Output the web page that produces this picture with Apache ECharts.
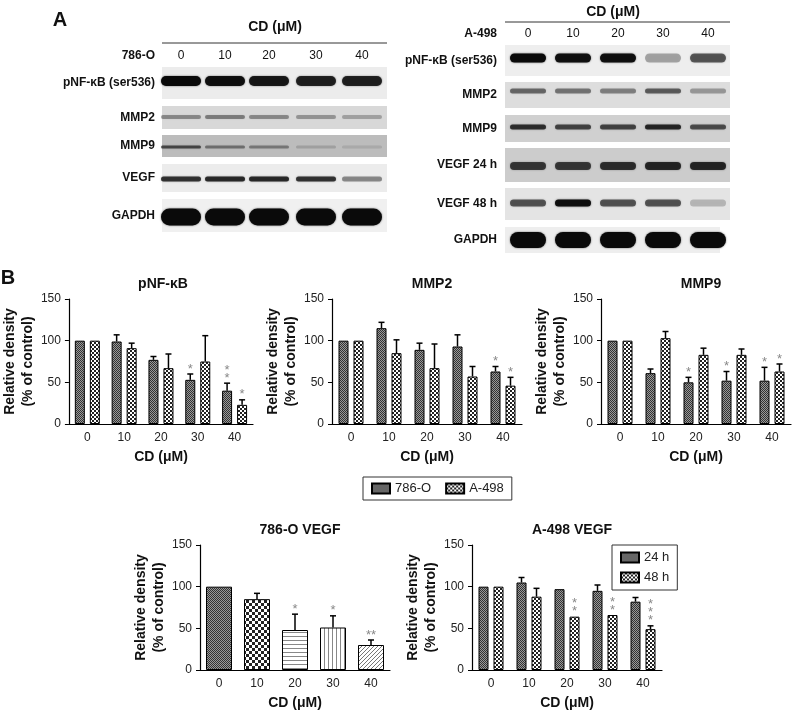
<!DOCTYPE html>
<html>
<head>
<meta charset="utf-8">
<script src="https://cdn.jsdelivr.net/npm/echarts@6/dist/echarts.min.js"></script>
<style>
  html, body { margin: 0; padding: 0; background: #fff; }
  #main { width: 796px; height: 711px; }
</style>
</head>
<body>
<div id="main"></div>
<script>
// 剂量
var doses = ['0', '10', '20', '30', '40']

// pNF-kB
var nfkb786 = [100, 99, 77, 53, 40]
var nfkb786Err = [0, 8, 4, 7, 9]
var nfkb786Star = ['', '', '', '*', '*\n*']
var nfkbA498 = [100, 91, 67, 75, 23]
var nfkbA498Err = [0, 6, 17, 31, 6]
var nfkbA498Star = ['', '', '', '', '*']

// MMP2
var mmp2786 = [100, 115, 89, 93, 63]
var mmp2786Err = [0, 7, 8, 14, 6]
var mmp2786Star = ['', '', '', '', '*']
var mmp2A498 = [100, 85, 67, 57, 46]
var mmp2A498Err = [0, 16, 29, 12, 10]
var mmp2A498Star = ['', '', '', '', '*']

// MMP9
var mmp9786 = [100, 61, 50, 52, 52]
var mmp9786Err = [0, 5, 6, 11, 16]
var mmp9786Star = ['', '', '*', '*', '*']
var mmp9A498 = [100, 103, 83, 83, 63]
var mmp9A498Err = [0, 8, 8, 7, 9]
var mmp9A498Star = ['', '', '', '', '*']

// 786-O VEGF
var vegf786 = [100, 85, 48, 51, 30]
var vegf786Err = [0, 7, 19, 14, 6]
var vegf786Star = ['', '', '*', '*', '**']

// A-498 VEGF
var vegf24 = [100, 105, 97, 95, 82]
var vegf24Err = [0, 6, 0, 7, 5]
var vegf24Star = ['', '', '', '', '']
var vegf48 = [100, 88, 64, 66, 49]
var vegf48Err = [0, 10, 0, 0, 4]
var vegf48Star = ['', '', '*\n*', '*\n*', '*\n*\n*']

var yTicks = [0, 50, 100, 150]

// 条带灰度 (western blot)
var leftRows = ['pNF-\u03baB (ser536)', 'MMP2', 'MMP9', 'VEGF', 'GAPDH']
var leftBands = [
  [1, 0.95, 0.9, 0.85, 0.85],
  [0.35, 0.4, 0.35, 0.3, 0.25],
  [0.6, 0.4, 0.35, 0.15, 0.1],
  [0.75, 0.8, 0.8, 0.75, 0.4],
  [1, 1, 1, 1, 1]
]
var rightRows = ['pNF-\u03baB (ser536)', 'MMP2', 'MMP9', 'VEGF 24 h', 'VEGF 48 h', 'GAPDH']
var rightBands = [
  [1, 0.95, 0.95, 0.3, 0.6],
  [0.5, 0.45, 0.4, 0.55, 0.3],
  [0.75, 0.65, 0.65, 0.8, 0.6],
  [0.7, 0.7, 0.75, 0.8, 0.8],
  [0.6, 0.95, 0.6, 0.6, 0.2],
  [1, 1, 1, 1, 1]
]

// 图案填充
function makePattern(size, draw) {
  var c = document.createElement('canvas')
  c.width = size
  c.height = size
  var ctx = c.getContext('2d')
  draw(ctx)
  return { image: c, repeat: 'repeat' }
}
var patFine = makePattern(2, function (ctx) {
  ctx.fillStyle = '#999'; ctx.fillRect(0, 0, 2, 2)
  ctx.fillStyle = '#333'; ctx.fillRect(0, 0, 1, 1); ctx.fillRect(1, 1, 1, 1)
})
var patCoarse = makePattern(4, function (ctx) {
  ctx.fillStyle = '#fff'; ctx.fillRect(0, 0, 4, 4)
  ctx.fillStyle = '#222'; ctx.fillRect(0, 0, 2, 2); ctx.fillRect(2, 2, 2, 2)
})
var patBig = makePattern(6, function (ctx) {
  ctx.fillStyle = '#fff'; ctx.fillRect(0, 0, 6, 6)
  ctx.fillStyle = '#222'; ctx.fillRect(0, 0, 3, 3); ctx.fillRect(3, 3, 3, 3)
})
var patHor = makePattern(4, function (ctx) {
  ctx.fillStyle = '#fff'; ctx.fillRect(0, 0, 4, 4)
  ctx.fillStyle = '#888'; ctx.fillRect(0, 0, 4, 1)
})
var patVer = makePattern(4, function (ctx) {
  ctx.fillStyle = '#fff'; ctx.fillRect(0, 0, 4, 4)
  ctx.fillStyle = '#888'; ctx.fillRect(0, 0, 1, 4)
})
var patDiag = makePattern(4, function (ctx) {
  ctx.fillStyle = '#fff'; ctx.fillRect(0, 0, 4, 4)
  ctx.fillStyle = '#777'
  for (var i = 0; i < 4; i++) ctx.fillRect(3 - i, i, 1, 1)
})

var grids = [
  { left: 63, width: 190, top: 299, height: 125 },
  { left: 332, width: 190, top: 299, height: 125 },
  { left: 601, width: 190, top: 299, height: 125 },
  { left: 200, width: 190, top: 545, height: 125 },
  { left: 472, width: 190, top: 545, height: 125 }
]
var titles = ['pNF-\u03baB', 'MMP2', 'MMP9', '786-O VEGF', 'A-498 VEGF']
var font = 'Arial, "Liberation Sans", sans-serif'

function xAxis(i) {
  return {
    type: 'category', gridIndex: i, data: doses,
    axisLine: { lineStyle: { color: '#000', width: 1.2 } },
    axisTick: { show: false },
    axisLabel: { color: '#222', fontSize: 12, fontFamily: font, margin: 8 },
    name: 'CD (\u03bcM)', nameLocation: 'middle', nameGap: 26,
    nameTextStyle: { fontSize: 14, fontWeight: 'bold', color: '#111', fontFamily: font }
  }
}
function yAxis(i, showName) {
  return {
    type: 'value', gridIndex: i, min: 0, max: 150, interval: 50,
    axisLine: { show: true, lineStyle: { color: '#000', width: 1.2 } },
    axisTick: { show: true, length: 4, lineStyle: { color: '#000' } },
    splitLine: { show: false },
    axisLabel: { color: '#222', fontSize: 12, fontFamily: font,
      formatter: function (v) { return yTicks.indexOf(v) >= 0 ? v : '' } },
    name: showName ? 'Relative density\n(% of control)' : '',
    nameLocation: 'middle', nameGap: 30, nameRotate: 90,
    nameTextStyle: { fontSize: 14, fontWeight: 'bold', color: '#111', fontFamily: font, lineHeight: 18 }
  }
}

function barSeries(i, name, data, color, width) {
  return {
    type: 'bar', name: name, xAxisIndex: i, yAxisIndex: i, data: data,
    barWidth: width || 10, barGap: '50%',
    itemStyle: { color: color, borderColor: '#000', borderWidth: 1 },
    z: 2
  }
}

// 误差线 + 星号
function errSeries(i, vals, errs, stars, offset) {
  var d = vals.map(function (v, k) { return [k, v, errs[k], stars[k]] })
  return {
    type: 'custom', xAxisIndex: i, yAxisIndex: i, data: d, z: 5,
    encode: { x: 0, y: 1 },
    renderItem: function (params, api) {
      var idx = api.value(0), v = api.value(1), e = api.value(2)
      var star = d[params.dataIndex][3]
      var base = api.coord([idx, v])
      var top = api.coord([idx, v + e])
      var x = base[0] + offset
      var ch = []
      if (e > 0) {
        ch.push({ type: 'line', shape: { x1: x, y1: base[1], x2: x, y2: top[1] },
          style: { stroke: '#000', lineWidth: 1.5 } })
        ch.push({ type: 'line', shape: { x1: x - 3, y1: top[1], x2: x + 3, y2: top[1] },
          style: { stroke: '#000', lineWidth: 1.5 } })
      }
      if (star) {
        ch.push({ type: 'text', x: x, y: top[1] - 1,
          style: { text: star, fill: '#888', fontSize: 13, fontFamily: font,
            align: 'center', verticalAlign: 'bottom', lineHeight: 8 } })
      }
      return { type: 'group', children: ch }
    }
  }
}

var series = [
  barSeries(0, '786-O', nfkb786, patFine), barSeries(0, 'A-498', nfkbA498, patCoarse),
  errSeries(0, nfkb786, nfkb786Err, nfkb786Star, -7.5), errSeries(0, nfkbA498, nfkbA498Err, nfkbA498Star, 7.5),
  barSeries(1, '786-O', mmp2786, patFine), barSeries(1, 'A-498', mmp2A498, patCoarse),
  errSeries(1, mmp2786, mmp2786Err, mmp2786Star, -7.5), errSeries(1, mmp2A498, mmp2A498Err, mmp2A498Star, 7.5),
  barSeries(2, '786-O', mmp9786, patFine), barSeries(2, 'A-498', mmp9A498, patCoarse),
  errSeries(2, mmp9786, mmp9786Err, mmp9786Star, -7.5), errSeries(2, mmp9A498, mmp9A498Err, mmp9A498Star, 7.5),
  {
    type: 'bar', xAxisIndex: 3, yAxisIndex: 3, barWidth: 26,
    data: vegf786.map(function (v, k) {
      return { value: v, itemStyle: { color: [patFine, patBig, patHor, patVer, patDiag][k] } }
    }),
    itemStyle: { borderColor: '#000', borderWidth: 1 }
  },
  errSeries(3, vegf786, vegf786Err, vegf786Star, 0),
  barSeries(4, '24 h', vegf24, patFine), barSeries(4, '48 h', vegf48, patCoarse),
  errSeries(4, vegf24, vegf24Err, vegf24Star, -7.5), errSeries(4, vegf48, vegf48Err, vegf48Star, 7.5)
]

// 印迹图
var graphic = []
function txt(x, y, s, size, align, bold) {
  graphic.push({ type: 'text', x: x, y: y, style: { text: s, fontSize: size, fontFamily: font,
    fontWeight: bold ? 'bold' : 'normal', fill: '#111', align: align || 'center', verticalAlign: 'middle' } })
}
function blot(rows, bands, boxes, lanes, x0, x1, labelX, bandW) {
  rows.forEach(function (name, r) {
    var b = boxes[r]
    var right = b[4] || x1
    graphic.push({ type: 'rect', shape: { x: x0, y: b[0], width: right - x0, height: b[1] - b[0] },
      style: { fill: b[2] } })
    txt(labelX, (b[0] + b[1]) / 2, name, 12, 'right', true)
    bands[r].forEach(function (dk, k) {
      graphic.push({ type: 'rect',
        shape: { x: lanes[k] - bandW / 2, y: b[3] - b[5] / 2, width: bandW, height: b[5], r: b[5] / 2 },
        style: { fill: 'rgba(10,10,10,' + dk + ')', shadowBlur: 2, shadowColor: 'rgba(0,0,0,' + dk * 0.6 + ')' } })
    })
  })
}
txt(60, 20, 'A', 20, 'center', true)
txt(275, 27, 'CD (\u03bcM)', 14, 'center', true)
graphic.push({ type: 'line', shape: { x1: 162, y1: 43, x2: 387, y2: 43 }, style: { stroke: '#333', lineWidth: 1 } })
txt(155, 56, '786-O', 12, 'right', true)
var lanesL = [181, 225, 269, 316, 362]
lanesL.forEach(function (x, k) { txt(x, 56, doses[k], 12, 'center', false) })
blot(leftRows, leftBands, [
  [67, 99, '#ececec', 81, 0, 10],
  [106, 129, '#d8d8d8', 117, 0, 4],
  [135, 157, '#bcbcbc', 147, 0, 3],
  [164, 192, '#ececec', 179, 0, 5],
  [199, 232, '#f0f0f0', 217, 0, 17]
], lanesL, 162, 387, 155, 40)

txt(613, 12, 'CD (\u03bcM)', 14, 'center', true)
graphic.push({ type: 'line', shape: { x1: 505, y1: 22, x2: 730, y2: 22 }, style: { stroke: '#333', lineWidth: 1 } })
txt(497, 34, 'A-498', 12, 'right', true)
var lanesR = [528, 573, 618, 663, 708]
lanesR.forEach(function (x, k) { txt(x, 34, doses[k], 12, 'center', false) })
blot(rightRows, rightBands, [
  [45, 76, '#eeeeee', 58, 0, 9],
  [82, 108, '#dddddd', 91, 0, 5],
  [115, 142, '#d0d0d0', 127, 0, 5],
  [148, 182, '#cccccc', 166, 0, 8],
  [188, 220, '#e4e4e4', 203, 0, 7],
  [227, 253, '#eeeeee', 240, 720, 16]
], lanesR, 505, 730, 497, 36)
txt(8, 278, 'B', 20, 'center', true)

var option = {
  backgroundColor: '#fff',
  animation: false,
  title: titles.map(function (t, i) {
    return { text: t, left: grids[i].left + grids[i].width / 2, top: grids[i].top - 27,
      textAlign: 'center',
      textStyle: { fontSize: 14, fontWeight: 'bold', color: '#111', fontFamily: font } }
  }),
  grid: grids,
  xAxis: grids.map(function (g, i) { return xAxis(i) }),
  yAxis: grids.map(function (g, i) { return yAxis(i, true) }),
  legend: [
    { data: ['786-O', 'A-498'], left: 363, top: 477, orient: 'horizontal', icon: 'rect',
      borderColor: '#333', borderWidth: 1, padding: [5, 8], itemWidth: 18, itemHeight: 10, itemGap: 14,
      textStyle: { fontSize: 13, color: '#222', fontFamily: font } },
    { data: ['24 h', '48 h'], left: 612, top: 545, orient: 'vertical', icon: 'rect',
      borderColor: '#333', borderWidth: 1, padding: [6, 8], itemWidth: 18, itemHeight: 10, itemGap: 7,
      textStyle: { fontSize: 13, color: '#222', fontFamily: font } }
  ],
  graphic: graphic,
  series: series
}

var chart = echarts.init(document.getElementById('main'), null, { renderer: 'canvas' })
chart.setOption(option)
</script>
</body>
</html>
